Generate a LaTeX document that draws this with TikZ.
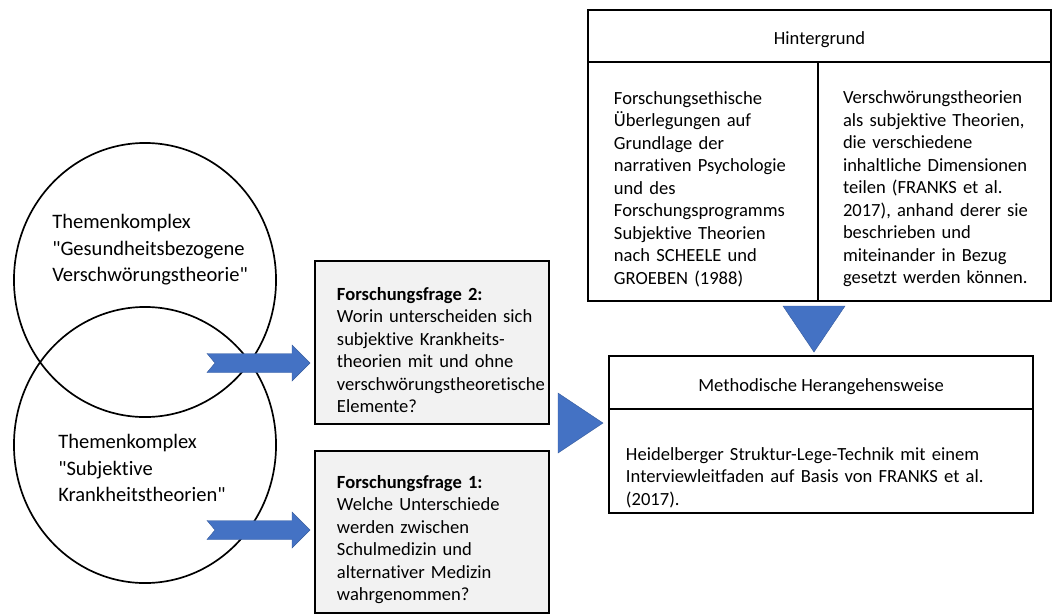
\documentclass[tikz,border=0pt]{standalone}
\usepackage{fontspec}
\setmainfont{Carlito}[Ligatures={TeXOff,CommonOff}]
\usetikzlibrary{shapes.geometric}

\definecolor{pfeilblau}{HTML}{4472C4}
\definecolor{kastengrau}{HTML}{F2F2F2}

\tikzset{
  kasten/.style={rectangle,draw,line width=1.4pt,inner ysep=0pt,
    font=\fontsize{13.2pt}{16pt}\selectfont},
  textkasten/.style={kasten,align=left,inner xsep=0.2cm,
    execute at begin node={\leftskip=#1\rule{0pt}{20pt}}},
  kopf/.style={kasten,align=center,inner xsep=0pt,execute at begin node={\rule{0pt}{15pt}}},
  frage/.style={textkasten=0.35cm,fill=kastengrau,minimum width=5.85cm,text width=5.45cm},
  thema/.style={ellipse,draw,line width=1.2pt,minimum width=6.55cm},
  thementext/.style={anchor=west,inner sep=0pt,align=left,font=\fontsize{14.6pt}{18.8pt}\selectfont},
  blau/.style={fill=pfeilblau,draw=pfeilblau!80!black,line width=0.3pt}
}

\begin{document}
\begin{tikzpicture}[x=0.025cm,y=-0.025cm]
  \useasboundingbox (0,0) rectangle (1052,614);

  %die zwei Themenkomplexe
  \node[thema,minimum height=6.85cm] (themaA) at (145,280) {};
  \node[thema,minimum height=6.9cm] (themaB) at (145,445) {};
  \node[thementext] (textA) at (52,250) {Themenkomplex\\"Gesundheitsbezogene\\Verschwörungstheorie"};
  \node[thementext] (textB) at (58,468) {Themenkomplex\\"Subjektive\\Krankheitstheorien"};

  %Forschungsfragen
  \node[frage,anchor=north west,minimum height=4.075cm] (frage2) at (314,260)
    {\textbf{Forschungsfrage 2:}\\Worin unterscheiden sich\\subjektive Krankheits-\\theorien mit und ohne\\\mbox{verschwörungstheoretische}\\Elemente?};
  \node[frage,anchor=north west,minimum height=4.05cm] (frage1) at (314,450)
    {\textbf{Forschungsfrage 1:}\\Welche Unterschiede\\werden zwischen\\Schulmedizin und\\alternativer Medizin\\wahrgenommen?};

  %Hintergrund
  \node[kopf,anchor=north west,minimum width=11.575cm,minimum height=1.3cm] (hinter) at (587,9) {Hintergrund};
  \node[textkasten=0.45cm,anchor=north west,minimum width=5.75cm,minimum height=5.975cm,text width=5.35cm] (hinterL) at (587,61)
    {Forschungsethische\\Überlegungen auf\\Grundlage der\\narrativen Psychologie\\und des\\Forschungsprogramms\\Subjektive Theorien\\nach SCHEELE und\\GROEBEN (1988)};
  \node[textkasten=0.425cm,anchor=north west,minimum width=5.825cm,minimum height=5.975cm,text width=5.425cm] (hinterR) at (817,61)
    {Verschwörungstheorien\\als subjektive Theorien,\\die verschiedene\\inhaltliche Dimensionen\\teilen (FRANKS et al.\\2017), anhand derer sie\\beschrieben und\\miteinander in Bezug\\gesetzt werden können.};

  %Methodische Herangehensweise
  \node[kopf,anchor=north west,minimum width=10.6cm,minimum height=1.325cm] (methode) at (608,355) {Methodische Herangehensweise};
  \node[textkasten=0.225cm,anchor=north west,minimum width=10.6cm,minimum height=2.6cm,text width=10.2cm] (methodeT) at (608,408)
    {\rule{0pt}{1.15cm}Heidelberger Struktur-Lege-Technik mit einem\\Interviewleitfaden auf Basis von FRANKS et al.\\(2017).};

  %blaue Pfeile
  \coordinate (spitzeA) at (310,363);
  \coordinate (spitzeB) at (310,530);
  \fill[blau] (spitzeA) -- ++(-18,-18) -- ++(0,8.5) -- ++(-85,0) -- ++(8,9.5) -- ++(-8,9.5) -- ++(85,0) -- ++(0,8.5) -- cycle;
  \fill[blau] (spitzeB) -- ++(-18,-18) -- ++(0,8.5) -- ++(-85,0) -- ++(8,9.5) -- ++(-8,9.5) -- ++(85,0) -- ++(0,8.5) -- cycle;

  %Dreiecke
  \fill[blau] (558,393) -- (603,423) -- (558,453) -- cycle;
  \fill[blau] (783,306) -- (845,306) -- (814,352) -- cycle;
\end{tikzpicture}
\end{document}
